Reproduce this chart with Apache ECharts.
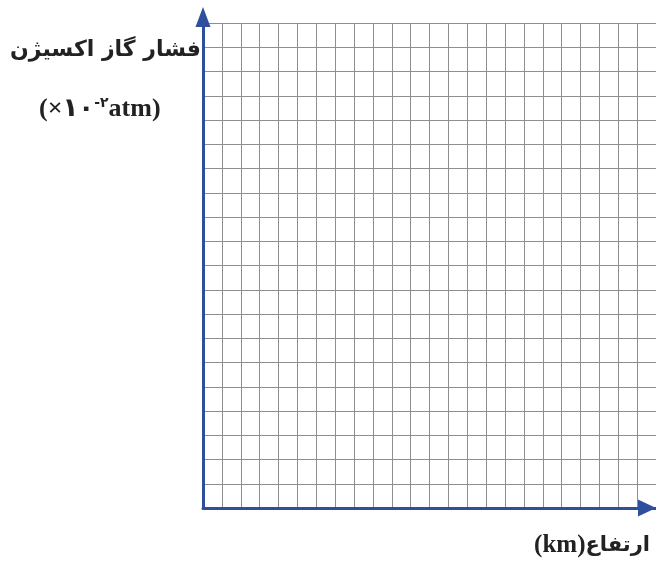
<!DOCTYPE html>
<html lang="fa">
  <head>
    <meta charset="UTF-8" />
    <title>فشار گاز اکسیژن</title>
    <script src="https://cdn.jsdelivr.net/npm/echarts@6.0.0/dist/echarts.min.js"></script>
    <style>
      html, body { margin: 0; padding: 0; background: #fff; }
    </style>
  </head>
  <body>
    <div id="main" style="width: 656px; height: 563px"></div>

    <script>
      // empty grid paper: 24 columns on the x axis, 20 rows on the y axis
      var xRange = [0, 24]
      var yRange = [0, 20]
      var xTitle = ["(km)", "ارتفاع"]
      var yTitle = ["فشار گاز اکسیژن", "(×۱۰", "-۲", "atm)"]

      var mCharts = echarts.init(document.getElementById("main"))

      var axisBlue = "#2d4f9c"
      var gridGray = "#8e8e8e"
      var ink = "#222"

      var option = {
        backgroundColor: "#fff",
        animation: false,
        grid: { left: 203, right: 0, top: 23, bottom: 55 },
        xAxis: {
          type: "value",
          min: xRange[0],
          max: xRange[1],
          interval: 1,
          axisLine: {
            lineStyle: { color: axisBlue, width: 3 },
            symbol: ["none", "triangle"],
            symbolSize: [17, 18],
            symbolOffset: [0, -9],
          },
          axisTick: { show: false },
          axisLabel: { show: false },
          splitLine: { show: true, lineStyle: { color: gridGray, width: 1 } },
        },
        yAxis: {
          type: "value",
          min: yRange[0],
          max: yRange[1],
          interval: 1,
          axisLine: {
            lineStyle: { color: axisBlue, width: 3 },
            symbol: ["none", "triangle"],
            symbolSize: [15, 20],
            symbolOffset: [0, 6],
          },
          axisTick: { show: false },
          axisLabel: { show: false },
          splitLine: { show: true, lineStyle: { color: gridGray, width: 1 } },
        },
        graphic: [
          {
            type: "text",
            right: 455,
            top: 39,
            style: {
              text: yTitle[0],
              font: "bold 22px 'DejaVu Sans'",
              fill: ink,
            },
          },
          {
            type: "text",
            left: 39,
            top: 96,
            style: {
              text: "{a|" + yTitle[1] + "}{s|" + yTitle[2] + "}{a|" + yTitle[3] + "}",
              fill: ink,
              rich: {
                a: { fontFamily: "Liberation Serif, DejaVu Sans", fontSize: 26, fontWeight: "bold", verticalAlign: "bottom", color: ink },
                s: { fontFamily: "DejaVu Sans", fontSize: 14, fontWeight: "bold", verticalAlign: "top", color: ink },
              },
            },
          },
          {
            type: "text",
            right: 6,
            top: 533,
            style: {
              text: "{a|" + xTitle[0] + "}{b|" + xTitle[1] + "}",
              fill: ink,
              rich: {
                a: { fontFamily: "Liberation Serif", fontSize: 25, fontWeight: "bold", color: ink },
                b: { fontFamily: "DejaVu Sans", fontSize: 21, fontWeight: "bold", color: ink },
              },
            },
          },
        ],
        series: [],
      }

      mCharts.setOption(option)
    </script>
  </body>
</html>
